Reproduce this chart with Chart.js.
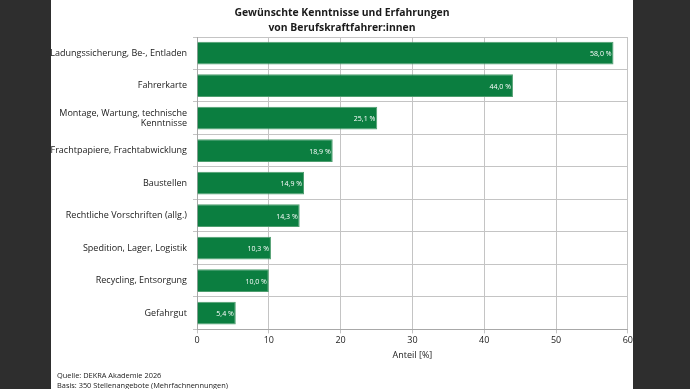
<!DOCTYPE html>
<html>
<head>
<meta charset="utf-8">
<script src="https://cdn.jsdelivr.net/npm/chart.js@4"></script>
<style>
  html, body { margin: 0; padding: 0; background: #2e2e2e; width: 690px; height: 389px; overflow: hidden; }
  #panel { position: absolute; left: 51px; top: 0; width: 582px; height: 389px; background: #fff; }
  #chart-box { position: absolute; left: 0; top: 0; width: 584px; height: 389px; }
  #title { position: absolute; left: 0; top: 5px; width: 582px; text-align: center; font: bold 10.4px "Open Sans", sans-serif; line-height: 14.5px; color: #1a1a1a; }
  #source { position: absolute; left: 6px; top: 371px; font: 7.4px "Open Sans", sans-serif; line-height: 9.5px; color: #1a1a1a; }
</style>
</head>
<body>
<div id="panel">
  <div id="chart-box"><canvas id="bar-chart" width="584" height="389"></canvas></div>
  <div id="title">Gewünschte Kenntnisse und Erfahrungen<br>von Berufskraftfahrer:innen</div>
  <div id="source">Quelle: DEKRA Akademie 2026<br>Basis: 350 Stellenangebote (Mehrfachnennungen)</div>
</div>
<script>
// categories and values (percent)
const categories = [
  'Ladungssicherung, Be-, Entladen',
  'Fahrerkarte',
  ['Montage, Wartung, technische', 'Kenntnisse'],
  'Frachtpapiere, Frachtabwicklung',
  'Baustellen',
  'Rechtliche Vorschriften (allg.)',
  'Spedition, Lager, Logistik',
  'Recycling, Entsorgung',
  'Gefahrgut'
];
const shares = [58.0, 44.0, 25.1, 18.9, 14.9, 14.3, 10.3, 10.0, 5.4];
const xTicks = [0, 10, 20, 30, 40, 50, 60];

const FONT = '"Open Sans", sans-serif';

const valueLabels = {
  id: 'valueLabels',
  afterDatasetsDraw(chart) {
    const ctx = chart.ctx;
    const meta = chart.getDatasetMeta(0);
    ctx.save();
    ctx.font = '7px ' + FONT;
    ctx.fillStyle = '#fff';
    ctx.textAlign = 'right';
    ctx.textBaseline = 'middle';
    meta.data.forEach((bar, i) => {
      ctx.fillText(shares[i].toFixed(1).replace('.', ',') + ' %', bar.x - 2, bar.y + 1);
    });
    ctx.restore();
  }
};

new Chart(document.getElementById('bar-chart').getContext('2d'), {
  type: 'bar',
  data: {
    labels: categories,
    datasets: [{
      data: shares,
      backgroundColor: '#0b7e40',
      borderColor: '#4f9e6f',
      borderWidth: 1,
      categoryPercentage: 0.7,
      barPercentage: 1.0
    }]
  },
  options: {
    indexAxis: 'y',
    responsive: false,
    animation: false,
    layout: { padding: { top: 37, right: 0, bottom: 28, left: 0 } },
    plugins: { legend: { display: false }, tooltip: { enabled: false } },
    scales: {
      x: {
        min: 0, max: 60,
        afterBuildTicks: s => { s.ticks = xTicks.map(v => ({ value: v })); },
        grid: { color: '#c4c4c4', tickLength: 4, drawTicks: true },
        border: { color: '#a8a8a8' },
        ticks: { font: { family: FONT, size: 9 }, color: '#222', padding: 2, maxRotation: 0 },
        title: { display: true, text: 'Anteil [%]', font: { family: FONT, size: 9 }, color: '#1a1a1a', padding: { top: 2, bottom: 0 } }
      },
      y: {
        afterFit: s => { s.width = 146; },
        grid: { color: '#c4c4c4', tickLength: 4, offset: true },
        border: { color: '#a8a8a8' },
        ticks: { font: { family: FONT, size: 9, lineHeight: 1.15 }, color: '#1a1a1a', padding: 6 }
      }
    }
  },
  plugins: [valueLabels]
});
</script>
</body>
</html>
